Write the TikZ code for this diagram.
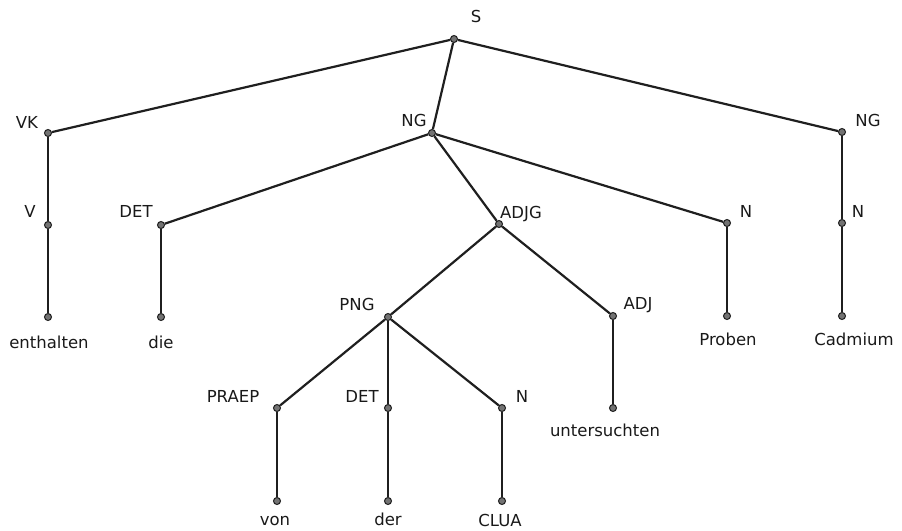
\documentclass[tikz,border=0pt]{standalone}
\usepackage{fontspec}
\setmainfont{DejaVu Sans}
\begin{document}
\begin{tikzpicture}[x=1pt,y=-1pt,
  ink/.style={draw=black!88},
  dot/.style={circle,draw=black!88,fill=black!55,line width=1pt,inner sep=0pt,minimum size=7pt},
  branch/.style={ink,line width=2.2pt},
  stem/.style={ink,line width=2.9pt},
  lbl/.style={font=\fontsize{16.5}{20}\selectfont,text=black!90,inner sep=0pt,anchor=base}]
\useasboundingbox (0,0) rectangle (902,530);

% tree nodes (dots)
\node[dot] (s)     at (454,39)  {};
\node[dot] (vk)    at (48,133)  {};
\node[dot] (ng)    at (432,133) {};
\node[dot] (ngr)   at (842,132) {};
\node[dot] (v)     at (48,225)  {};
\node[dot] (det)   at (161,225) {};
\node[dot] (adjg)  at (499,224) {};
\node[dot] (n)     at (727,223) {};
\node[dot] (nr)    at (842,223) {};
\node[dot] (wa)    at (48,317)  {};
\node[dot] (wb)    at (161,317) {};
\node[dot] (wc)    at (727,316) {};
\node[dot] (wd)    at (842,316) {};
\node[dot] (png)   at (388,317) {};
\node[dot] (adj)   at (613,316) {};
\node[dot] (praep) at (277,408) {};
\node[dot] (detb)  at (388,408) {};
\node[dot] (nb)    at (502,408) {};
\node[dot] (we)    at (613,408) {};
\node[dot] (wf)    at (277,501) {};
\node[dot] (wg)    at (388,501) {};
\node[dot] (wh)    at (502,501) {};

% branches
\draw[branch] (s) -- (vk);
\draw[branch] (s) -- (ng);
\draw[branch] (s) -- (ngr);
\draw[branch] (ng) -- (det);
\draw[branch] (ng) -- (adjg);
\draw[branch] (ng) -- (n);
\draw[branch] (adjg) -- (png);
\draw[branch] (adjg) -- (adj);
\draw[branch] (png) -- (praep);
\draw[branch] (png) -- (nb);
\draw[stem] (png) -- (detb);
\draw[stem] (vk) -- (v);
\draw[stem] (v) -- (wa);
\draw[stem] (det) -- (wb);
\draw[stem] (n) -- (wc);
\draw[stem] (ngr) -- (nr);
\draw[stem] (nr) -- (wd);
\draw[stem] (adj) -- (we);
\draw[stem] (praep) -- (wf);
\draw[stem] (detb) -- (wg);
\draw[stem] (nb) -- (wh);

% category labels
\node[lbl] (ls)     at (476,23)  {S};
\node[lbl] (lvk)    at (27,128)  {VK};
\node[lbl] (lng)    at (414,126) {NG};
\node[lbl] (lngr)   at (868,126) {NG};
\node[lbl] (lv)     at (30,217)  {V};
\node[lbl] (ldet)   at (136,217) {DET};
\node[lbl] (ladjg)  at (521,218) {ADJG};
\node[lbl] (ln)     at (746,217) {N};
\node[lbl] (lnr)    at (858,217) {N};
\node[lbl] (lpng)   at (357,310) {PNG};
\node[lbl] (ladj)   at (638,309) {ADJ};
\node[lbl] (lpraep) at (233,402) {PRAEP};
\node[lbl] (ldetb)  at (362,402) {DET};
\node[lbl] (lnb)    at (522,402) {N};

% words
\node[lbl] (ta) at (49,348)  {enthalten};
\node[lbl] (tb) at (161,348) {die};
\node[lbl] (tc) at (728,345) {Proben};
\node[lbl] (td) at (854,345) {Cadmium};
\node[lbl] (te) at (605,436) {untersuchten};
\node[lbl] (tf) at (275,525) {von};
\node[lbl] (tg) at (388,525) {der};
\node[lbl] (th) at (500,526) {CLUA};
\end{tikzpicture}
\end{document}
